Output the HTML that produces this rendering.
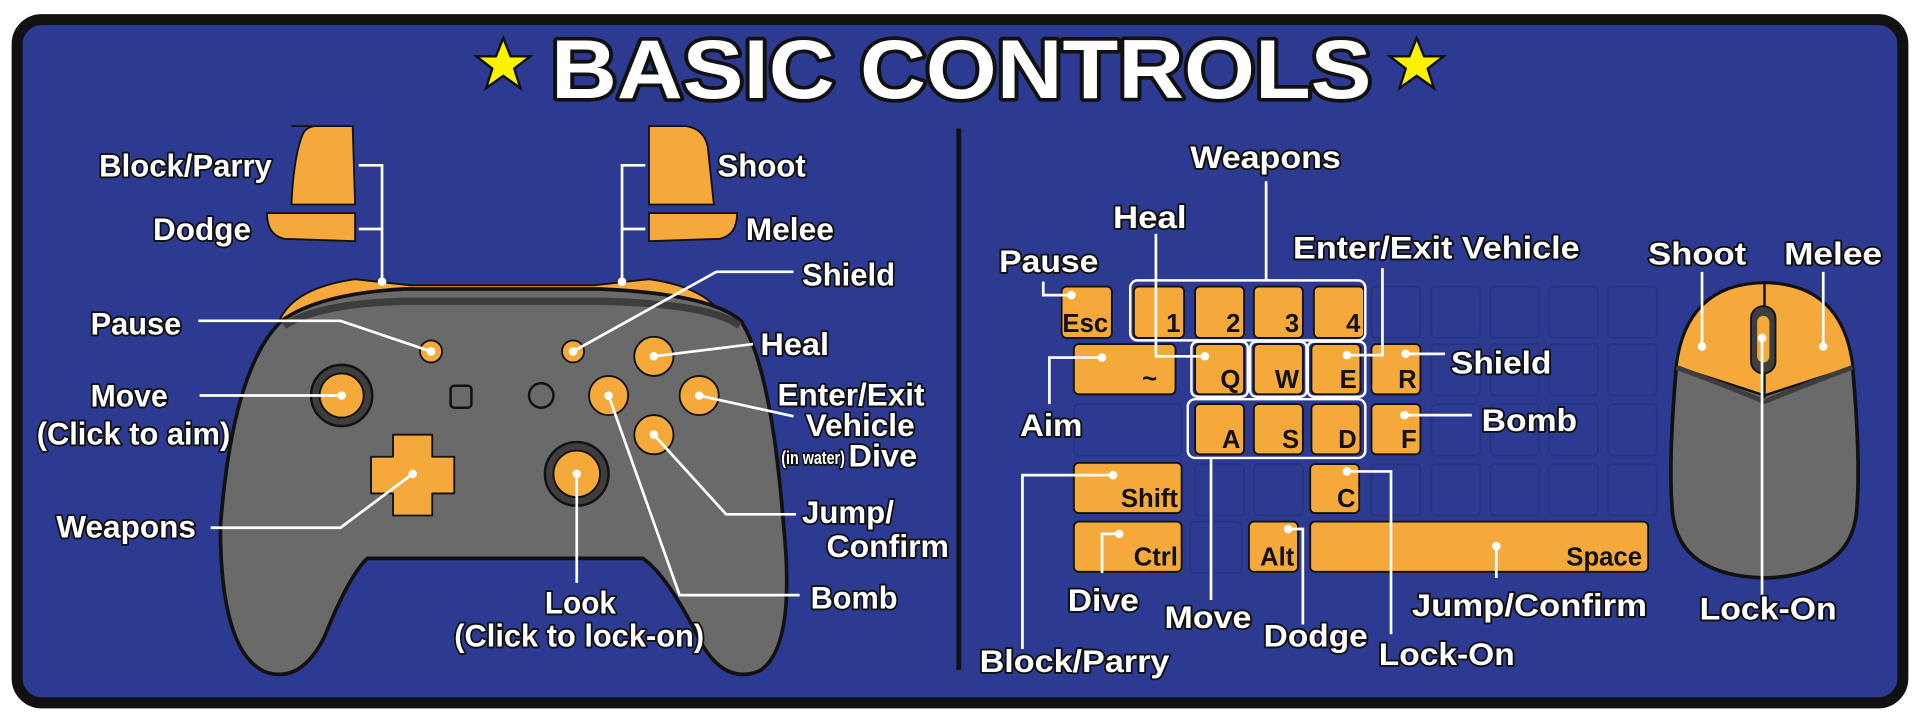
<!DOCTYPE html>
<html><head><meta charset="utf-8"><style>
html,body{margin:0;padding:0;background:#fff;width:1920px;height:720px;overflow:hidden}
svg{display:block}
.l{font-family:"Liberation Sans Narrow","Liberation Sans",sans-serif;font-size:26px;font-weight:bold;fill:#fff;stroke:#111;stroke-width:3;paint-order:stroke;stroke-linejoin:round}
.k{font-family:"Liberation Sans Narrow","Liberation Sans",sans-serif;font-weight:bold;font-size:21px;fill:#111;text-anchor:end}
.ln{stroke:#fff;stroke-width:2.2;fill:none}
.key{fill:#f6a93b;stroke:#111;stroke-width:1.5}
.gk{fill:none;stroke:#27337f;stroke-width:1.5}
.box{fill:none;stroke:#fff;stroke-width:2}
.d{fill:#fff}
</style></head><body>
<svg width="1920" height="720" viewBox="0 0 1568 588" preserveAspectRatio="none" xmlns="http://www.w3.org/2000/svg">
<rect x="0" y="0" width="1568" height="588" fill="#fff"/>
<rect x="14" y="16" width="1540" height="558" rx="20" fill="#2c3a91" stroke="#111" stroke-width="9"/>
<!-- title -->
<polygon points="411,31 417,46 433,46 420,56 425,72 411,62 397,72 402,56 389,46 405,46" fill="#fff200" stroke="#111" stroke-width="2"/>
<polygon points="1157,31 1163,46 1179,46 1166,56 1171,72 1157,62 1143,72 1148,56 1135,46 1151,46" fill="#fff200" stroke="#111" stroke-width="2"/>
<text x="450" y="80" textLength="670" lengthAdjust="spacingAndGlyphs" font-family="Liberation Sans,sans-serif" font-weight="bold" font-size="68" fill="#fff" stroke="#111" stroke-width="6" paint-order="stroke" stroke-linejoin="round">BASIC CONTROLS</text>
<!-- divider -->
<rect x="781" y="105" width="4" height="442" fill="#111"/>

<!-- CONTROLLER -->
<path d="M238,103 L288,103 L290,167 L238,167 Q240,125 248,108 Q252,103 258,103 Z" fill="#f6a93b" stroke="#111" stroke-width="1.5"/>
<path d="M218,174 L290,174 L290,197 L232,195 Q218,192 218,174 Z" fill="#f6a93b" stroke="#111" stroke-width="1.5"/>
<path d="M530,103 L560,103 Q575,105 578,120 L583,167 L530,167 Z" fill="#f6a93b" stroke="#111" stroke-width="1.5"/>
<path d="M530,174 L602,174 Q602,192 588,195 L530,197 Z" fill="#f6a93b" stroke="#111" stroke-width="1.5"/>
<path d="M228,262 Q240,235 290,228 L335,233 L485,233 L530,228 Q580,235 592,262 Z" fill="#f6a93b" stroke="#111" stroke-width="1.5"/>
<path d="M230,262 Q260,240 330,236 L490,236 Q580,240 605,262 Q630,300 640,430 Q650,530 620,548 Q590,560 570,520 Q545,470 525,456 L300,456 Q285,470 265,520 Q245,560 215,548 Q180,530 180,430 Q190,300 230,262 Z" fill="#6a6a6a" stroke="#111" stroke-width="3"/>
<path d="M232,266 Q260,248 330,246 L490,246 Q580,248 604,266" fill="none" stroke="#3d3d3d" stroke-width="6"/>
<circle cx="279" cy="323" r="25" fill="#3e3e3e" stroke="#111" stroke-width="2"/>
<circle cx="279" cy="323" r="18" fill="#f6a93b" stroke="#111" stroke-width="1.5"/>
<circle cx="471" cy="387" r="26" fill="#3e3e3e" stroke="#111" stroke-width="2"/>
<circle cx="471" cy="387" r="19" fill="#f6a93b" stroke="#111" stroke-width="1.5"/>
<path d="M321,355 h32 v18 h18 v30 h-18 v18 h-32 v-18 h-18 v-30 h18 z" fill="#f6a93b" stroke="#111" stroke-width="1.5" stroke-linejoin="round"/>
<rect x="368" y="315" width="17" height="18" rx="3" fill="none" stroke="#111" stroke-width="2"/>
<circle cx="442" cy="323" r="10" fill="none" stroke="#111" stroke-width="2"/>
<circle cx="352" cy="287" r="9" fill="#f6a93b" stroke="#111" stroke-width="1.5"/>
<circle cx="468" cy="287" r="9" fill="#f6a93b" stroke="#111" stroke-width="1.5"/>
<circle cx="534" cy="291" r="16" fill="#f6a93b" stroke="#111" stroke-width="1.5"/>
<circle cx="571" cy="323" r="16" fill="#f6a93b" stroke="#111" stroke-width="1.5"/>
<circle cx="497" cy="323" r="16" fill="#f6a93b" stroke="#111" stroke-width="1.5"/>
<circle cx="534" cy="355" r="16" fill="#f6a93b" stroke="#111" stroke-width="1.5"/>
<polyline class="ln" points="293,135 312,135 312,230"/><line class="ln" x1="293" y1="187" x2="312" y2="187"/>
<polyline class="ln" points="527,135 508,135 508,230"/><line class="ln" x1="527" y1="187" x2="508" y2="187"/>
<circle class="d" cx="312" cy="230" r="3.5"/><circle class="d" cx="508" cy="230" r="3.5"/>
<polyline class="ln" points="162,262 278,262 352,287"/><circle class="d" cx="352" cy="287" r="3.5"/>
<polyline class="ln" points="163,323 279,323"/><circle class="d" cx="279" cy="323" r="3.5"/>
<polyline class="ln" points="172,431 278,431 337,387"/><circle class="d" cx="337" cy="387" r="3.5"/>
<polyline class="ln" points="471,387 471,476"/><circle class="d" cx="471" cy="387" r="3.5"/>
<polyline class="ln" points="468,287 585,222 648,222"/><circle class="d" cx="468" cy="287" r="3.5"/>
<polyline class="ln" points="534,291 615,281"/><circle class="d" cx="534" cy="291" r="3.5"/>
<polyline class="ln" points="571,323 648,340"/><circle class="d" cx="571" cy="323" r="3.5"/>
<polyline class="ln" points="534,355 593,420 650,420"/><circle class="d" cx="534" cy="355" r="3.5"/>
<polyline class="ln" points="497,323 555,486 653,486"/><circle class="d" cx="497" cy="323" r="3.5"/>
<text class="l" x="81" y="144" textLength="141" lengthAdjust="spacingAndGlyphs">Block/Parry</text>
<text class="l" x="125" y="196" textLength="80" lengthAdjust="spacingAndGlyphs">Dodge</text>
<text class="l" x="586" y="144" textLength="72" lengthAdjust="spacingAndGlyphs">Shoot</text>
<text class="l" x="609" y="196" textLength="72" lengthAdjust="spacingAndGlyphs">Melee</text>
<text class="l" x="655" y="233" textLength="76" lengthAdjust="spacingAndGlyphs">Shield</text>
<text class="l" x="621" y="290" textLength="56" lengthAdjust="spacingAndGlyphs">Heal</text>
<text class="l" x="74" y="273" textLength="74" lengthAdjust="spacingAndGlyphs">Pause</text>
<text class="l" x="74" y="332" textLength="63" lengthAdjust="spacingAndGlyphs">Move</text>
<text class="l" x="30" y="363" textLength="158" lengthAdjust="spacingAndGlyphs">(Click to aim)</text>
<text class="l" x="635" y="331" textLength="120" lengthAdjust="spacingAndGlyphs">Enter/Exit</text>
<text class="l" x="658" y="356" textLength="89" lengthAdjust="spacingAndGlyphs">Vehicle</text>
<text class="l" x="638" y="379" style="font-size:15px" textLength="52" lengthAdjust="spacingAndGlyphs">(in water)</text>
<text class="l" x="693" y="381" textLength="56" lengthAdjust="spacingAndGlyphs">Dive</text>
<text class="l" x="46" y="439" textLength="114" lengthAdjust="spacingAndGlyphs">Weapons</text>
<text class="l" x="655" y="427" textLength="75" lengthAdjust="spacingAndGlyphs">Jump/</text>
<text class="l" x="675" y="455" textLength="100" lengthAdjust="spacingAndGlyphs">Confirm</text>
<text class="l" x="662" y="497" textLength="71" lengthAdjust="spacingAndGlyphs">Bomb</text>
<text class="l" x="445" y="501" textLength="58" lengthAdjust="spacingAndGlyphs">Look</text>
<text class="l" x="371" y="528" textLength="204" lengthAdjust="spacingAndGlyphs">(Click to lock-on)</text>

<g class="gk">
<rect x="1120" y="234" width="40" height="42" rx="4"/><rect x="1169" y="234" width="40" height="42" rx="4"/><rect x="1217" y="234" width="40" height="42" rx="4"/><rect x="1265" y="234" width="40" height="42" rx="4"/><rect x="1313" y="234" width="40" height="42" rx="4"/>
<rect x="1169" y="281" width="40" height="42" rx="4"/><rect x="1217" y="281" width="40" height="42" rx="4"/><rect x="1265" y="281" width="40" height="42" rx="4"/><rect x="1313" y="281" width="40" height="42" rx="4"/>
<rect x="877" y="330" width="88" height="42" rx="4"/><rect x="1169" y="330" width="40" height="42" rx="4"/><rect x="1217" y="330" width="40" height="42" rx="4"/><rect x="1265" y="330" width="40" height="42" rx="4"/><rect x="1313" y="330" width="40" height="42" rx="4"/>
<rect x="976" y="379" width="40" height="42" rx="4"/><rect x="1024" y="379" width="40" height="42" rx="4"/><rect x="1120" y="379" width="40" height="42" rx="4"/><rect x="1169" y="379" width="40" height="42" rx="4"/><rect x="1217" y="379" width="40" height="42" rx="4"/><rect x="1265" y="379" width="40" height="42" rx="4"/><rect x="1313" y="379" width="40" height="42" rx="4"/>
<rect x="972" y="426" width="42" height="42" rx="4"/>
</g>
<g>
<rect class="key" x="867" y="234" width="41" height="42" rx="4"/><text class="k" x="905" y="271">Esc</text>
<rect class="key" x="926" y="234" width="41" height="42" rx="4"/><text class="k" x="964" y="271">1</text>
<rect class="key" x="976" y="234" width="40" height="42" rx="4"/><text class="k" x="1013" y="271">2</text>
<rect class="key" x="1024" y="234" width="40" height="42" rx="4"/><text class="k" x="1061" y="271">3</text>
<rect class="key" x="1073" y="234" width="41" height="42" rx="4"/><text class="k" x="1111" y="271">4</text>
<rect class="key" x="877" y="281" width="83" height="41" rx="4"/><text class="k" x="945" y="316">~</text>
<rect class="key" x="976" y="281" width="40" height="41" rx="4"/><text class="k" x="1013" y="317">Q</text>
<rect class="key" x="1024" y="281" width="40" height="41" rx="4"/><text class="k" x="1061" y="317">W</text>
<rect class="key" x="1071" y="281" width="40" height="41" rx="4"/><text class="k" x="1108" y="317">E</text>
<rect class="key" x="1120" y="281" width="40" height="41" rx="4"/><text class="k" x="1157" y="317">R</text>
<rect class="key" x="976" y="330" width="40" height="41" rx="4"/><text class="k" x="1013" y="366">A</text>
<rect class="key" x="1024" y="330" width="40" height="41" rx="4"/><text class="k" x="1061" y="366">S</text>
<rect class="key" x="1071" y="330" width="40" height="41" rx="4"/><text class="k" x="1108" y="366">D</text>
<rect class="key" x="1120" y="330" width="40" height="41" rx="4"/><text class="k" x="1157" y="366">F</text>
<rect class="key" x="877" y="378" width="88" height="41" rx="4"/><text class="k" x="962" y="414">Shift</text>
<rect class="key" x="1070" y="379" width="40" height="40" rx="4"/><text class="k" x="1107" y="414">C</text>
<rect class="key" x="877" y="426" width="88" height="41" rx="4"/><text class="k" x="962" y="462">Ctrl</text>
<rect class="key" x="1020" y="426" width="40" height="41" rx="4"/><text class="k" x="1057" y="462">Alt</text>
<rect class="key" x="1070" y="426" width="276" height="41" rx="4"/><text class="k" x="1341" y="462">Space</text>
</g>
<rect class="box" x="923" y="229" width="192" height="49" rx="6"/>
<rect class="box" x="973" y="279" width="46" height="45" rx="5"/>
<rect class="box" x="1021" y="279" width="46" height="45" rx="5"/>
<rect class="box" x="1068" y="279" width="47" height="45" rx="5"/>
<rect class="box" x="970" y="326" width="145" height="48" rx="6"/>
<line class="ln" x1="1034" y1="148" x2="1034" y2="229"/>
<polyline class="ln" points="944,191 944,291 984,291"/><circle class="d" cx="984" cy="291" r="3.5"/>
<polyline class="ln" points="852,230 852,241 875,241"/><circle class="d" cx="875" cy="241" r="3.5"/>
<polyline class="ln" points="1129,219 1129,290 1100,290"/><circle class="d" cx="1100" cy="290" r="3.5"/>
<polyline class="ln" points="1148,289 1180,289"/><circle class="d" cx="1148" cy="289" r="3.5"/>
<polyline class="ln" points="1147,339 1202,339"/><circle class="d" cx="1147" cy="339" r="3.5"/>
<polyline class="ln" points="900,292 857,292 857,330"/><circle class="d" cx="900" cy="292" r="3.5"/>
<polyline class="ln" points="909,388 835,388 835,530"/><circle class="d" cx="909" cy="388" r="3.5"/>
<polyline class="ln" points="914,436 900,436 900,468"/><circle class="d" cx="914" cy="436" r="3.5"/>
<line class="ln" x1="989" y1="374" x2="989" y2="490"/>
<polyline class="ln" points="1052,432 1064,432 1064,510"/><circle class="d" cx="1052" cy="432" r="3.5"/>
<polyline class="ln" points="1100,385 1136,385 1136,518"/><circle class="d" cx="1100" cy="385" r="3.5"/>
<line class="ln" x1="1222" y1="446" x2="1222" y2="472"/><circle class="d" cx="1222" cy="446" r="3.5"/>
<text class="l" x="972" y="137" textLength="123" lengthAdjust="spacingAndGlyphs">Weapons</text>
<text class="l" x="909" y="186" textLength="60" lengthAdjust="spacingAndGlyphs">Heal</text>
<text class="l" x="816" y="222" textLength="81" lengthAdjust="spacingAndGlyphs">Pause</text>
<text class="l" x="1056" y="211" textLength="234" lengthAdjust="spacingAndGlyphs">Enter/Exit Vehicle</text>
<text class="l" x="1185" y="305" textLength="82" lengthAdjust="spacingAndGlyphs">Shield</text>
<text class="l" x="1210" y="352" textLength="78" lengthAdjust="spacingAndGlyphs">Bomb</text>
<text class="l" x="833" y="356" textLength="51" lengthAdjust="spacingAndGlyphs">Aim</text>
<text class="l" x="872" y="499" textLength="58" lengthAdjust="spacingAndGlyphs">Dive</text>
<text class="l" x="951" y="513" textLength="71" lengthAdjust="spacingAndGlyphs">Move</text>
<text class="l" x="1032" y="528" textLength="85" lengthAdjust="spacingAndGlyphs">Dodge</text>
<text class="l" x="1126" y="543" textLength="111" lengthAdjust="spacingAndGlyphs">Lock-On</text>
<text class="l" x="1153" y="503" textLength="192" lengthAdjust="spacingAndGlyphs">Jump/Confirm</text>
<text class="l" x="800" y="549" textLength="155" lengthAdjust="spacingAndGlyphs">Block/Parry</text>
<!-- MOUSE -->
<path d="M1441,231 Q1505,232 1513,300 Q1520,380 1516,420 Q1510,470 1441,472 Q1372,470 1366,420 Q1362,380 1369,300 Q1377,232 1441,231 Z" fill="#6a6a6a" stroke="#111" stroke-width="3"/>
<path d="M1441,231 Q1505,232 1513,300 Q1480,310 1441,323 Q1402,310 1369,300 Q1377,232 1441,231 Z" fill="#f6a93b" stroke="#111" stroke-width="2"/>
<path d="M1369,300 Q1402,312 1441,328 Q1480,312 1513,300" fill="none" stroke="#3d3d3d" stroke-width="4"/>
<line x1="1441" y1="231" x2="1441" y2="325" stroke="#111" stroke-width="2"/>
<rect x="1430" y="250" width="20" height="55" rx="10" fill="#3e3e3e" stroke="#111" stroke-width="1.5"/>
<rect x="1435" y="258" width="10" height="38" rx="5" fill="#f6a93b"/>
<line class="ln" x1="1390" y1="222" x2="1390" y2="283"/><circle class="d" cx="1390" cy="283" r="3.5"/>
<line class="ln" x1="1489" y1="222" x2="1489" y2="283"/><circle class="d" cx="1489" cy="283" r="3.5"/>
<line class="ln" x1="1439" y1="276" x2="1439" y2="486"/><circle class="d" cx="1439" cy="276" r="3.5"/>
<text class="l" x="1346" y="216" textLength="80" lengthAdjust="spacingAndGlyphs">Shoot</text>
<text class="l" x="1457" y="216" textLength="80" lengthAdjust="spacingAndGlyphs">Melee</text>
<text class="l" x="1388" y="506" textLength="112" lengthAdjust="spacingAndGlyphs">Lock-On</text>
</svg>
</body></html>
